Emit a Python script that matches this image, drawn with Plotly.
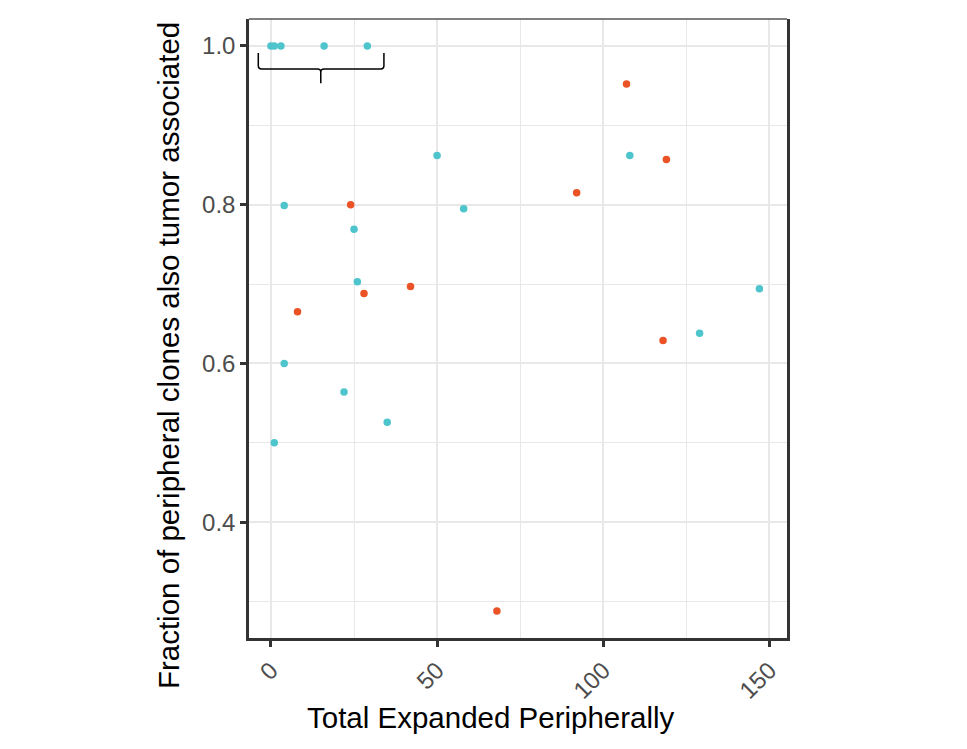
import plotly.graph_objects as go

# Data
cyan_x = [0, 1, 3, 16, 29, 4, 25, 26, 4, 22, 35, 1, 50, 58, 108, 129, 147]
cyan_y = [1.0, 1.0, 1.0, 1.0, 1.0, 0.799, 0.769, 0.703, 0.6, 0.564, 0.526, 0.5,
          0.862, 0.795, 0.862, 0.638, 0.694]
red_x = [24, 8, 28, 42, 107, 119, 92, 118, 68]
red_y = [0.8, 0.665, 0.688, 0.697, 0.952, 0.857, 0.815, 0.629, 0.288]

x_ticks = [0, 50, 100, 150]
y_ticks = [0.4, 0.6, 0.8, 1.0]

CYAN = "#4EC4CD"
RED = "#EB5326"

# brace annotation (data coords)
bx0, bx1, bxc = -3.8, 34.0, 15.0
by_top, by_mid, by_tip = 0.991, 0.971, 0.953

fig = go.Figure()
fig.add_trace(go.Scatter(x=cyan_x, y=cyan_y, mode="markers",
                         marker=dict(color=CYAN, size=7.5, line=dict(width=0)),
                         showlegend=False, cliponaxis=False))
fig.add_trace(go.Scatter(x=red_x, y=red_y, mode="markers",
                         marker=dict(color=RED, size=7.5, line=dict(width=0)),
                         showlegend=False, cliponaxis=False))

dx = 1.0
dy = 0.004
path = (f"M {bx0},{by_top} L {bx0},{by_mid+dy} Q {bx0},{by_mid} {bx0+dx},{by_mid} "
        f"L {bxc-dx},{by_mid} Q {bxc},{by_mid} {bxc},{by_mid-dy} L {bxc},{by_tip} "
        f"M {bxc},{by_mid-dy} Q {bxc},{by_mid} {bxc+dx},{by_mid} "
        f"L {bx1-dx},{by_mid} Q {bx1},{by_mid} {bx1},{by_mid+dy} L {bx1},{by_top}")
fig.add_shape(type="path", path=path, xref="x", yref="y",
              line=dict(color="black", width=1.5))

# top border (thin)
fig.add_shape(type="line", xref="paper", yref="paper", x0=0, x1=1, y0=1, y1=1,
              line=dict(color="#555555", width=1.5))

font_family = "Liberation Sans, Arial, sans-serif"

fig.update_layout(
    width=967, height=749,
    margin=dict(l=249, r=180, t=19, b=111, autoexpand=False),
    plot_bgcolor="white", paper_bgcolor="white",
    font=dict(family=font_family),
    xaxis=dict(
        range=[-6.6, 155.3], tickvals=x_ticks, ticktext=[str(v) for v in x_ticks],
        tickangle=-45, tickfont=dict(size=24, color="#4d4d4d"),
        showgrid=True, gridcolor="#E8E8E8", gridwidth=2,
        minor=dict(dtick=25, tick0=0, showgrid=True, gridcolor="#E8E8E8", gridwidth=1.2,
                   ticks=""),
        showline=True, linecolor="#333333", linewidth=2.5, mirror=False,
        ticks="outside", ticklen=6, tickwidth=2.5, tickcolor="#333333",
        zeroline=False,
    ),
    yaxis=dict(
        range=[0.254, 1.034], tickvals=y_ticks, ticktext=[f"{v:.1f}" for v in y_ticks],
        tickfont=dict(size=24, color="#4d4d4d"),
        showgrid=True, gridcolor="#E8E8E8", gridwidth=2,
        minor=dict(dtick=0.1, tick0=0, showgrid=True, gridcolor="#E8E8E8", gridwidth=1.2,
                   ticks=""),
        showline=True, linecolor="#333333", linewidth=2.5, mirror=True,
        ticks="outside", ticklen=6, tickwidth=2.5, tickcolor="#333333",
        zeroline=False,
    ),
    annotations=[
        dict(text="Total Expanded Peripherally", xref="paper", yref="paper",
             x=0.45, y=-0.129, xanchor="center", yanchor="middle", showarrow=False,
             font=dict(size=29.5, color="black", family=font_family)),
        dict(text="Fraction of peripheral clones also tumor associated", xref="paper",
             yref="paper", x=-0.1506, y=0.457, xanchor="center", yanchor="middle",
             textangle=-90, showarrow=False,
             font=dict(size=29.5, color="black", family=font_family)),
    ],
)

fig.write_html("out.html")
